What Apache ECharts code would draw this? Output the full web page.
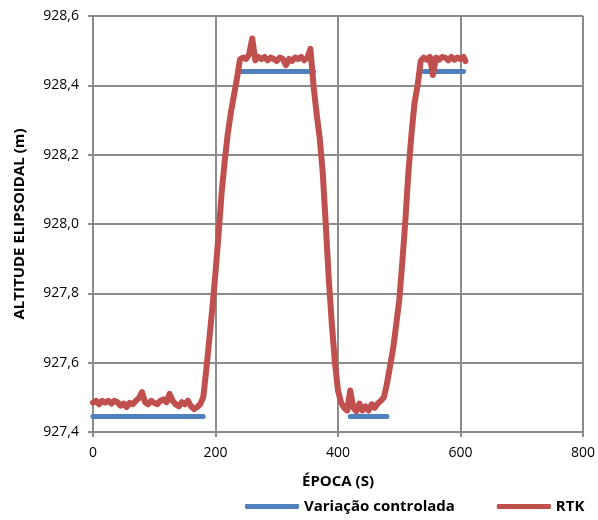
<!DOCTYPE html>
<html>
<head>
<meta charset="utf-8">
<script src="https://cdn.jsdelivr.net/npm/echarts@6/dist/echarts.min.js"></script>
<style>
html,body{margin:0;padding:0;background:#fff;}
#chart{width:598px;height:520px;}
</style>
</head>
<body>
<div id="chart"></div>
<script>
// Controlled variation (segments separated by gaps)
var ctrlTime = [0, 180, null, 240, 360, null, 420, 480, null, 540, 605];
var ctrlAltitude = [927.445, 927.445, null, 928.44, 928.44, null, 927.445, 927.445, null, 928.44, 928.44];

// RTK series
var rtkTime = [
  0,5,10,15,20,25,30,35,40,45,50,55,60,65,70,75,80,85,90,95,100,105,110,115,120,125,130,135,140,145,150,155,160,165,170,175,180,
  185,190,195,200,205,210,215,220,225,230,235,
  240,245,250,255,260,265,270,275,280,285,290,295,300,305,310,315,320,325,330,335,340,345,350,355,
  360,365,370,375,380,385,390,395,400,405,410,
  415,420,425,430,435,440,445,450,455,460,465,470,475,480,
  485,490,495,500,505,510,515,520,525,530,535,
  540,545,550,555,560,565,570,575,580,585,590,595,600,605,608
];
var rtkAltitude = [
  927.485,927.490,927.480,927.490,927.485,927.490,927.482,927.490,927.486,927.476,927.482,927.472,927.484,927.480,927.490,927.498,927.515,927.486,927.480,927.490,927.484,927.480,927.490,927.494,927.486,927.510,927.490,927.480,927.474,927.486,927.480,927.490,927.474,927.466,927.472,927.480,927.500,
  927.580,927.670,927.760,927.860,927.970,928.090,928.180,928.260,928.320,928.370,928.420,
  928.475,928.480,928.476,928.490,928.535,928.472,928.482,928.476,928.482,928.472,928.480,928.476,928.470,928.480,928.476,928.458,928.476,928.470,928.480,928.476,928.482,928.472,928.480,928.505,
  928.400,928.320,928.250,928.150,928.000,927.840,927.710,927.600,927.520,927.485,927.470,
  927.462,927.520,927.470,927.460,927.482,927.462,927.474,927.462,927.480,927.470,927.482,927.490,927.500,927.540,
  927.590,927.640,927.710,927.780,927.890,928.010,928.150,928.260,928.350,928.400,928.470,
  928.480,928.474,928.482,928.430,928.480,928.474,928.482,928.480,928.472,928.482,928.474,928.480,928.476,928.482,928.470
];

var xTicks = {min: 0, max: 800, interval: 200};
var yTicks = {min: 927.4, max: 928.6, interval: 0.2};

function pairs(xs, ys) {
  return xs.map(function (x, i) {
    return (x === null || ys[i] === null) ? ['-', '-'] : [x, ys[i]];
  });
}

var FONT = '"Open Sans", "Liberation Sans", sans-serif';
var GRID_COLOR = '#8c8c8c';

var chart = echarts.init(document.getElementById('chart'), null, {renderer: 'canvas'});
chart.setOption({
  animation: false,
  backgroundColor: '#ffffff',
  textStyle: {fontFamily: FONT, color: '#000'},
  grid: {left: 93, right: 13, top: 16, bottom: 88, containLabel: false},
  legend: {
    left: 240, top: 494,
    itemWidth: 54, itemHeight: 5, itemGap: 42,
    icon: 'roundRect',
    textStyle: {fontFamily: FONT, fontSize: 15, fontWeight: 'bold', color: '#000'},
    data: ['Variação controlada', 'RTK']
  },
  xAxis: {
    type: 'value',
    min: xTicks.min, max: xTicks.max, interval: xTicks.interval,
    name: 'ÉPOCA (S)', nameLocation: 'middle', nameGap: 42,
    nameTextStyle: {fontFamily: FONT, fontSize: 15, fontWeight: 'bold', color: '#000'},
    axisLine: {show: true, lineStyle: {color: GRID_COLOR, width: 2}},
    axisTick: {show: true, length: 5, lineStyle: {color: GRID_COLOR, width: 2}},
    splitLine: {show: true, lineStyle: {color: GRID_COLOR, width: 2}},
    axisLabel: {fontFamily: FONT, fontSize: 14, color: '#000', margin: 14}
  },
  yAxis: {
    type: 'value',
    min: yTicks.min, max: yTicks.max, interval: yTicks.interval,
    name: 'ALTITUDE ELIPSOIDAL (m)', nameLocation: 'middle', nameGap: 66,
    nameTextStyle: {fontFamily: FONT, fontSize: 15, fontWeight: 'bold', color: '#000'},
    axisLine: {show: true, lineStyle: {color: GRID_COLOR, width: 2}},
    axisTick: {show: true, length: 5, lineStyle: {color: GRID_COLOR, width: 2}},
    splitLine: {show: true, lineStyle: {color: GRID_COLOR, width: 2}},
    axisLabel: {
      fontFamily: FONT, fontSize: 14, color: '#000', margin: 14,
      formatter: function (v) { return v.toFixed(1).replace('.', ','); }
    }
  },
  series: [
    {
      name: 'Variação controlada',
      type: 'line',
      data: pairs(ctrlTime, ctrlAltitude),
      showSymbol: false, symbol: 'none',
      connectNulls: false,
      itemStyle: {color: '#4f81bd'},
      lineStyle: {color: '#4f81bd', width: 5, cap: 'round', join: 'round'},
      z: 2
    },
    {
      name: 'RTK',
      type: 'line',
      data: pairs(rtkTime, rtkAltitude),
      showSymbol: false, symbol: 'none',
      itemStyle: {color: '#c0504d'},
      lineStyle: {color: '#c0504d', width: 6, cap: 'round', join: 'round'},
      z: 3
    }
  ]
});
</script>
</body>
</html>
